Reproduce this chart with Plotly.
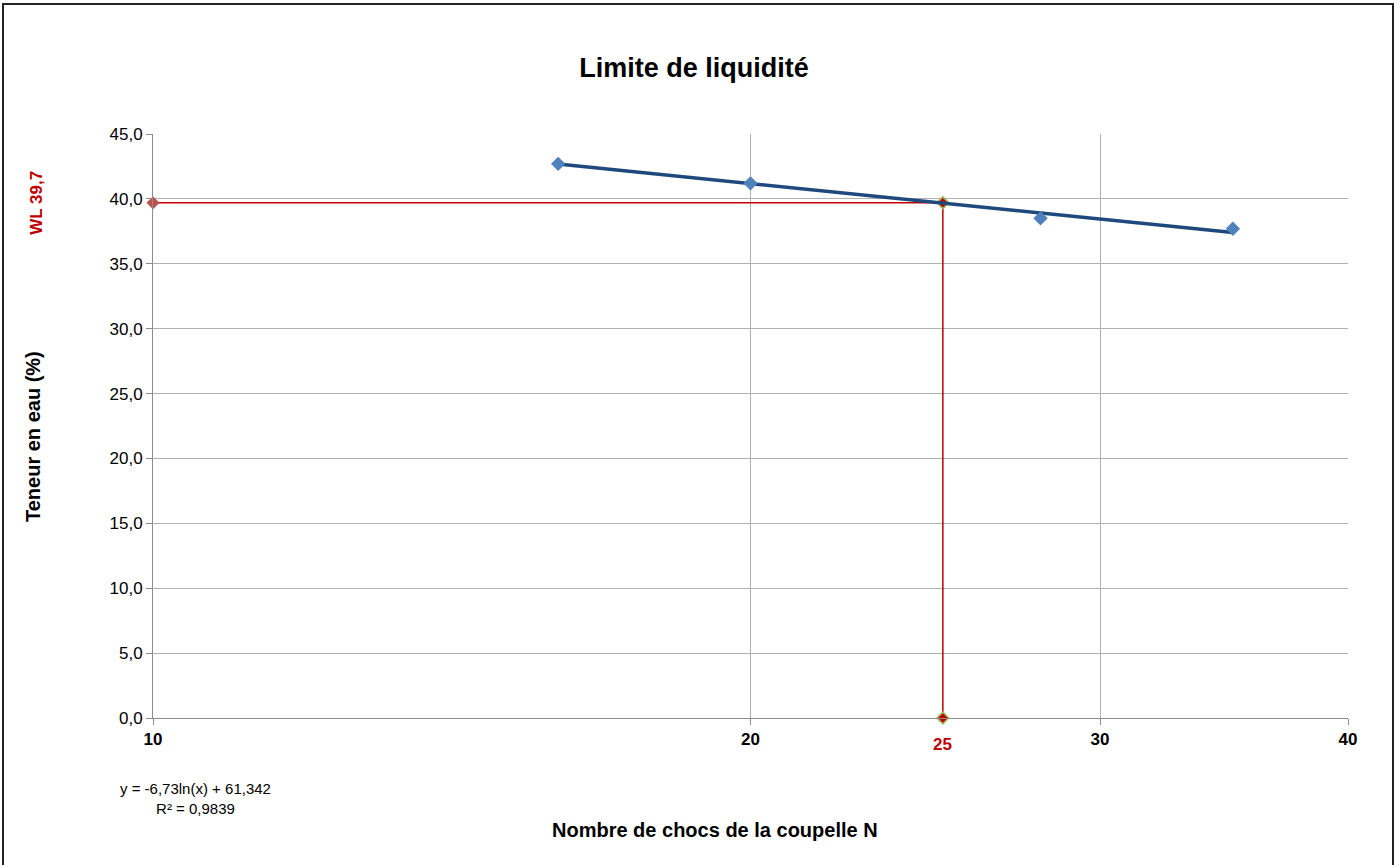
import math
import plotly.graph_objects as go

# =====================================
# DATA
# =====================================

chocs = [16, 20, 28, 35]
teneur = [42.7, 41.2, 38.5, 37.7]

trend_x = [16, 35]
trend_y = [42.68, 37.41]

wl_n = 25
wl_value = 39.7
x_start = 10

x_ticks = [10, 20, 30, 40]
y_ticks = [0, 5, 10, 15, 20, 25, 30, 35, 40, 45]

FONT = "Liberation Sans, Arial, sans-serif"
RED = "#c00000"

# plot area in page pixels
L, R, T, B = 153, 1348, 134, 718
PW, PH = R - L, B - T


def px_x(v):
    return (v - L) / PW


def px_y(v):
    return (B - v) / PH


# =====================================
# FIGURE
# =====================================

fig = go.Figure()

# horizontal / vertical WL construction lines
fig.add_trace(go.Scatter(
    x=[x_start, wl_n],
    y=[wl_value, wl_value],
    mode="lines+markers",
    line=dict(color=RED, width=1.5),
    marker=dict(symbol="diamond", size=10, color="#c0504d"),
    cliponaxis=False,
    showlegend=False,
))

fig.add_trace(go.Scatter(
    x=[wl_n, wl_n],
    y=[wl_value, 0],
    mode="lines+markers",
    line=dict(color=RED, width=1.5),
    marker=dict(symbol="diamond", size=9, color=RED,
                line=dict(color="#9bbb59", width=1.5)),
    cliponaxis=False,
    showlegend=False,
))

# trend line
fig.add_trace(go.Scatter(
    x=trend_x,
    y=trend_y,
    mode="lines",
    line=dict(color="#1f497d", width=3.5),
    showlegend=False,
))

# measured points
fig.add_trace(go.Scatter(
    x=chocs,
    y=teneur,
    mode="markers",
    marker=dict(symbol="diamond", size=11, color="#4f81bd"),
    showlegend=False,
))

fig.update_layout(
    width=1400,
    height=865,
    margin=dict(l=L, r=1400 - R, t=T, b=865 - B),
    paper_bgcolor="white",
    plot_bgcolor="white",
    separators=", ",
    font=dict(family=FONT, size=17, color="black"),
    title=dict(
        text="<b>Limite de liquidité</b>",
        x=694 / 1400,
        xanchor="center",
        xref="container",
        y=1 - 68 / 865,
        yanchor="middle",
        font=dict(size=27, family=FONT),
    ),
)

fig.update_xaxes(
    type="log",
    range=[math.log10(10), math.log10(40)],
    tickvals=x_ticks,
    ticktext=["<b>%d</b>" % v for v in x_ticks],
    tickfont=dict(size=17),
    showgrid=True,
    gridcolor="#b0b0b0",
    gridwidth=1,
    showline=True,
    linecolor="#8c8c8c",
    ticks="outside",
    ticklen=6,
    tickcolor="#8c8c8c",
    zeroline=False,
)

fig.update_yaxes(
    range=[0, 45],
    tickvals=y_ticks,
    tickformat=".1f",
    tickfont=dict(size=17),
    showgrid=True,
    gridcolor="#b0b0b0",
    gridwidth=1,
    showline=True,
    linecolor="#8c8c8c",
    ticks="outside",
    ticklen=6,
    tickcolor="#8c8c8c",
    zeroline=False,
)

# =====================================
# ANNOTATIONS
# =====================================

fig.add_annotation(
    x=math.log10(wl_n), y=0, xref="x", yref="y",
    text="<b>%d</b>" % wl_n,
    showarrow=False, yshift=-26,
    font=dict(size=17, color=RED),
)

fig.add_annotation(
    x=px_x(37), y=wl_value, xref="paper", yref="y",
    xanchor="center",
    text="<b>WL 39,7</b>",
    textangle=-90, showarrow=False,
    font=dict(size=17, color=RED),
)

fig.add_annotation(
    x=px_x(33), y=px_y(437), xref="paper", yref="paper",
    xanchor="center", yanchor="middle",
    text="<b>Teneur en eau (%)</b>",
    textangle=-90, showarrow=False,
    font=dict(size=20),
)

fig.add_annotation(
    x=px_x(715), y=px_y(830),
    xref="paper", yref="paper",
    xanchor="center", yanchor="middle",
    text="<b>Nombre de chocs de la coupelle N</b>",
    showarrow=False,
    font=dict(size=20),
)

fig.add_annotation(
    x=px_x(195), y=px_y(798),
    xref="paper", yref="paper",
    xanchor="center", yanchor="middle",
    text="y = -6,73ln(x) + 61,342<br>R² = 0,9839",
    showarrow=False, align="center",
    font=dict(size=15),
)

# outer frame
fig.add_shape(
    type="rect", xref="paper", yref="paper",
    x0=px_x(3), x1=px_x(1393),
    y0=px_y(880), y1=px_y(4),
    line=dict(color="#222222", width=2),
    layer="below",
)

fig.write_html(
    "out.html",
    config={"displayModeBar": False},
    post_script="document.body.style.margin='0';",
)
